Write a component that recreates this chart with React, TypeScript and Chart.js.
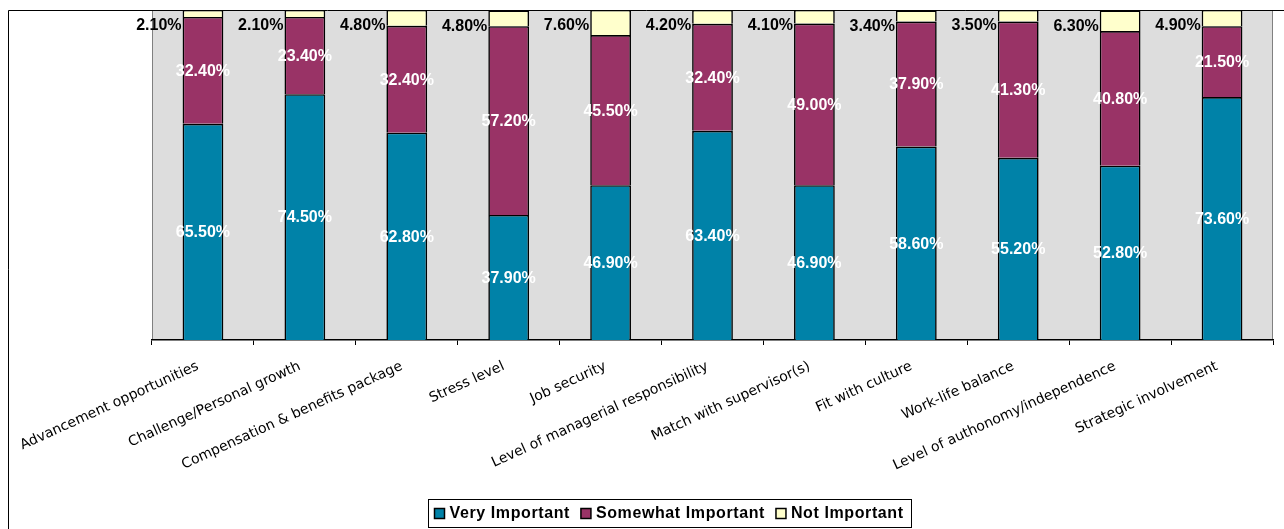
import { useEffect, useRef } from "react";
import { Chart, registerables } from "chart.js";

Chart.register(...registerables);

// Survey categories (x axis)
const categories = [
  "Advancement opportunities",
  "Challenge/Personal growth",
  "Compensation & benefits package",
  "Stress level",
  "Job security",
  "Level of managerial responsibility",
  "Match with supervisor(s)",
  "Fit with culture",
  "Work-life balance",
  "Level of authonomy/independence",
  "Strategic involvement",
];

// Share of respondents (%) per answer
const veryImportant = [65.5, 74.5, 62.8, 37.9, 46.9, 63.4, 46.9, 58.6, 55.2, 52.8, 73.6];
const somewhatImportant = [32.4, 23.4, 32.4, 57.2, 45.5, 32.4, 49.0, 37.9, 41.3, 40.8, 21.5];
const notImportant = [2.1, 2.1, 4.8, 4.8, 7.6, 4.2, 4.1, 3.4, 3.5, 6.3, 4.9];

const seriesNames = ["Very Important", "Somewhat Important", "Not Important"];
const seriesColors = ["#0082A8", "#993366", "#FFFFCC"];

const VALUE_FONT = 'bold 16px "Liberation Sans", Arial, sans-serif';
const LEGEND_FONT = 'bold 16px "Liberation Sans", Arial, sans-serif';

// White page, grey plot area and the thin outer frame
const framePlugin = {
  id: "frame",
  beforeDraw(chart: any) {
    const { ctx, chartArea: a, width, height } = chart;
    ctx.save();
    ctx.fillStyle = "#ffffff";
    ctx.fillRect(0, 0, width, height);
    ctx.fillStyle = "#DDDDDD";
    ctx.fillRect(a.left, a.top, a.right - a.left, a.bottom - a.top);
    ctx.strokeStyle = "#808080";
    ctx.lineWidth = 1;
    ctx.beginPath();
    ctx.moveTo(a.left + 0.5, a.top);
    ctx.lineTo(a.left + 0.5, a.bottom);
    ctx.moveTo(a.right - 0.5, a.top);
    ctx.lineTo(a.right - 0.5, a.bottom);
    ctx.stroke();
    ctx.strokeStyle = "#000000";
    ctx.beginPath();
    ctx.moveTo(8.5, height);
    ctx.lineTo(8.5, 10.5);
    ctx.lineTo(width, 10.5);
    ctx.stroke();
    ctx.restore();
  },
};

// Percentage labels on each segment
const valueLabels = {
  id: "valueLabels",
  afterDatasetsDraw(chart: any) {
    const ctx = chart.ctx;
    ctx.save();
    ctx.font = VALUE_FONT;
    ctx.textBaseline = "middle";
    chart.data.datasets.forEach((ds: any, di: number) => {
      const meta = chart.getDatasetMeta(di);
      meta.data.forEach((bar: any, i: number) => {
        const v = ds.data[i] as number;
        const text = v.toFixed(2) + "%";
        const { x, y, base, width } = bar.getProps(["x", "y", "base", "width"], true);
        if (di < 2) {
          ctx.fillStyle = "#ffffff";
          ctx.textAlign = "center";
          ctx.fillText(text, x, (y + base) / 2 + 1);
        } else {
          ctx.fillStyle = "#000000";
          ctx.textAlign = "right";
          ctx.fillText(text, x - width / 2 - 1, y + 16);
        }
      });
    });
    ctx.restore();
  },
};

// Boxed legend below the axis labels
const boxedLegend = {
  id: "boxedLegend",
  afterDraw(chart: any) {
    const ctx = chart.ctx;
    ctx.save();
    ctx.font = LEGEND_FONT;
    (ctx as any).letterSpacing = "0.6px";
    const sw = 11;
    const gapText = 4;
    const gapItem = 11;
    const pad = 6;
    const items = chart.data.datasets.map((d: any) => ({
      label: d.label as string,
      color: d.backgroundColor as string,
      w: ctx.measureText(d.label).width,
    }));
    const content =
      items.reduce((s: number, it: any) => s + sw + gapText + it.w, 0) + gapItem * (items.length - 1);
    const boxW = Math.round(content + pad * 2 + 2);
    const cx = 669.5;
    const top = 499.5;
    const h = 28;
    const left = Math.round(cx - boxW / 2) + 0.5;
    ctx.fillStyle = "#ffffff";
    ctx.fillRect(left, top, boxW, h);
    ctx.strokeStyle = "#000000";
    ctx.lineWidth = 1;
    ctx.strokeRect(left, top, boxW, h);
    let x = left + pad;
    const cy = top + h / 2;
    ctx.textBaseline = "middle";
    ctx.textAlign = "left";
    items.forEach((it: any) => {
      ctx.fillStyle = it.color;
      ctx.fillRect(x, cy - 5, sw - 1, sw - 1);
      ctx.strokeStyle = "#000000";
      ctx.lineWidth = 1.5;
      ctx.strokeRect(x, cy - 5, sw - 1, sw - 1);
      ctx.fillStyle = "#000000";
      ctx.fillText(it.label, x + sw + gapText, cy);
      x += sw + gapText + it.w + gapItem;
    });
    ctx.restore();
  },
};

export default function App() {
  const canvasRef = useRef<HTMLCanvasElement>(null);

  useEffect(() => {
    if (!canvasRef.current) return;
    const series = [veryImportant, somewhatImportant, notImportant];
    const chart = new Chart(canvasRef.current, {
      type: "bar",
      data: {
        labels: categories,
        datasets: series.map((values, i) => ({
          label: seriesNames[i],
          data: values,
          backgroundColor: seriesColors[i],
          borderColor: "#000000",
          borderWidth: 1.6,
          borderSkipped: "start",
          barPercentage: 0.4,
          categoryPercentage: 1.0,
        })),
      },
      options: {
        animation: false,
        responsive: true,
        maintainAspectRatio: false,
        devicePixelRatio: 1,
        layout: { padding: { left: 152, right: 11, top: 10, bottom: 0 } },
        plugins: {
          legend: { display: false },
          tooltip: { enabled: false },
        },
        scales: {
          x: {
            stacked: true,
            grid: {
              offset: true,
              drawOnChartArea: false,
              drawTicks: true,
              tickLength: 5,
              color: "#000000",
            },
            border: { display: true, color: "#000000", width: 1.5 },
            ticks: {
              autoSkip: false,
              maxRotation: 24.5,
              minRotation: 24.5,
              padding: 13,
              labelOffset: -5,
              color: "#000000",
              font: { family: '"DejaVu Sans", Verdana, sans-serif', size: 14 },
            },
            afterFit: (scale: any) => {
              scale.height = 189;
            },
          },
          y: {
            stacked: true,
            display: false,
            min: 0,
            max: 100,
          },
        },
      },
      plugins: [framePlugin, valueLabels, boxedLegend],
    });
    return () => chart.destroy();
  }, []);

  return (
    <div style={{ position: "fixed", left: 0, top: 0, width: 1284, height: 529 }}>
      <canvas ref={canvasRef} />
    </div>
  );
}
